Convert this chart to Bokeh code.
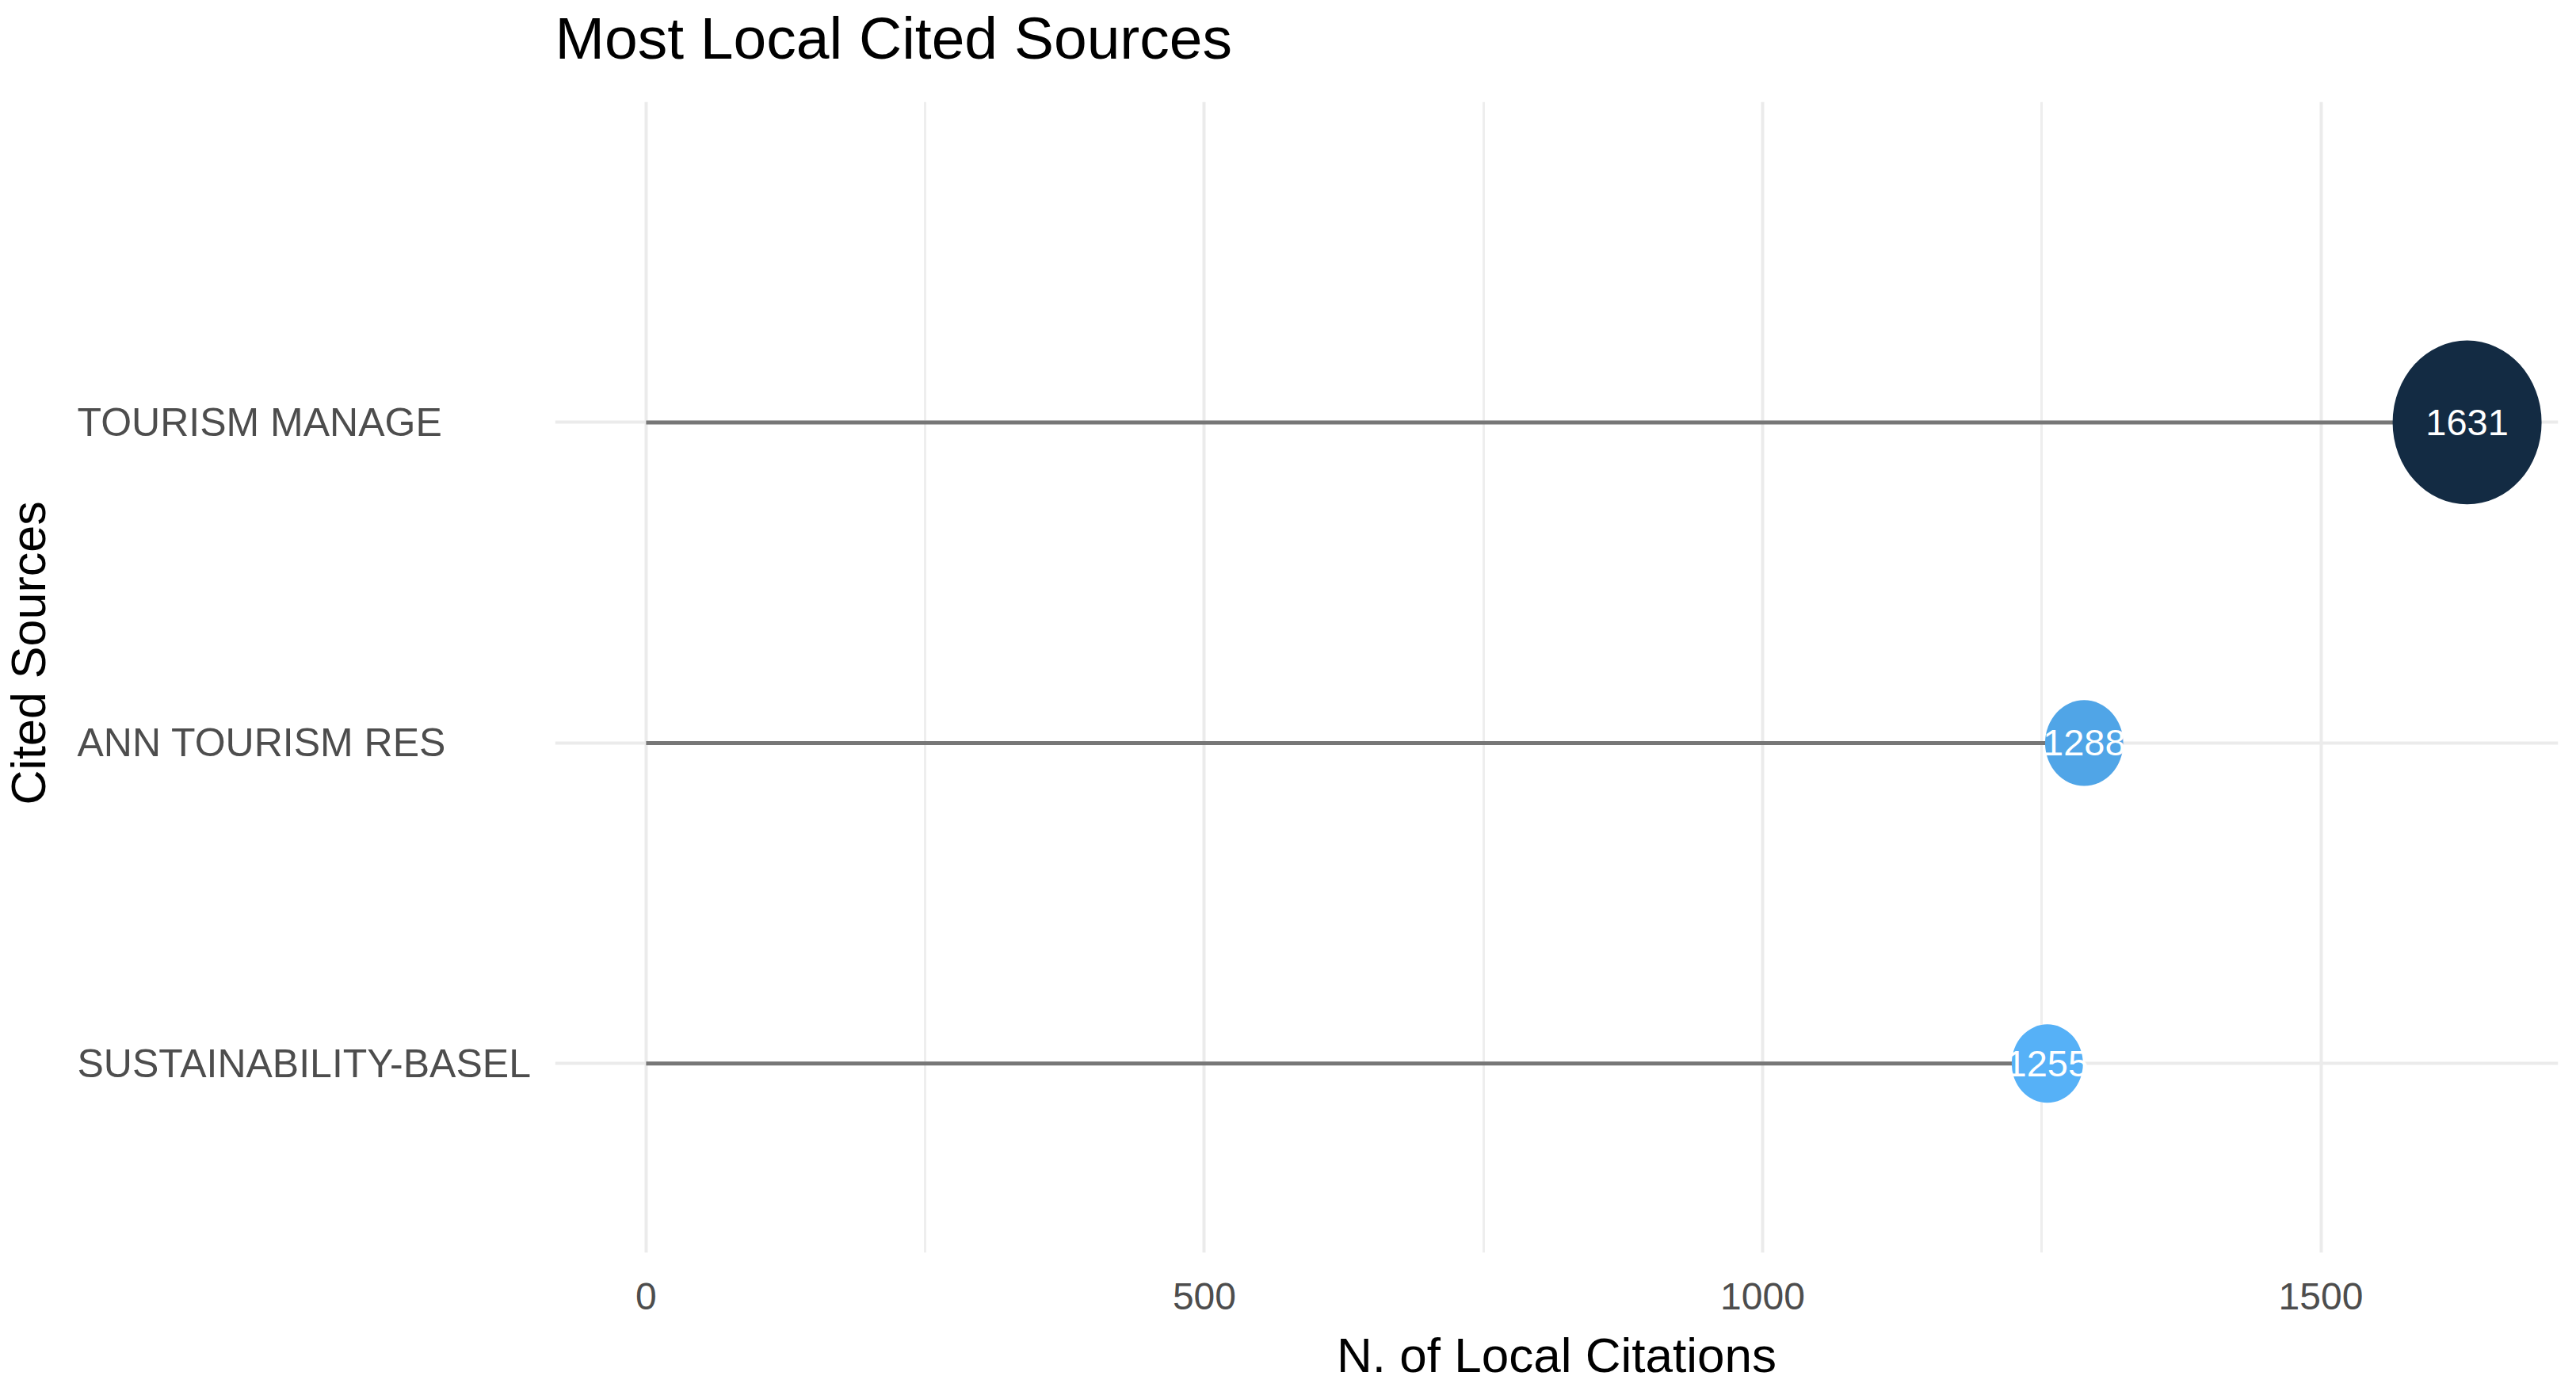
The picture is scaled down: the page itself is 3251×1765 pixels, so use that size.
import math
from bokeh.plotting import figure
from bokeh.layouts import column, row
from bokeh.models import (Range1d, FixedTicker, ColumnDataSource, LinearColorMapper,
                          Label, LabelSet)
from bokeh.core.properties import value
from bokeh.embed import file_html
from bokeh.resources import INLINE

# ---- data ----
sources = ["TOURISM MANAGE", "ANN TOURISM RES", "SUSTAINABILITY-BASEL"]
citations = [1631, 1288, 1255]
x_ticks = [0, 500, 1000, 1500]
x_minor_ticks = [250, 750, 1250]
title_text = "Most Local Cited Sources"
x_title = "N. of Local Citations"
y_title = "Cited Sources"

FONT = "Liberation Sans"

n = len(sources)
ypos = list(range(n, 0, -1))
lo, hi = min(citations), max(citations)
x_start = -0.05 * hi
x_end = hi * 1.05
y_range = Range1d(0.41, n + 1.0)

# point size scale (screen px), like ggplot's size scale
widths = [90 + (c - lo) * 98 / (hi - lo) for c in citations]
heights = [w * 1.1 for w in widths]


def interp(c1, c2, t):
    a = [int(c1[i:i + 2], 16) for i in (1, 3, 5)]
    b = [int(c2[i:i + 2], 16) for i in (1, 3, 5)]
    return "#" + "".join("%02x" % round(a[k] + (b[k] - a[k]) * t) for k in range(3))


palette = [interp("#56B1F7", "#132B43", i / 255) for i in range(256)]
mapper = LinearColorMapper(palette=palette, low=lo, high=hi)

src = ColumnDataSource(dict(
    y=ypos, x=citations, zero=[0] * n, w=widths, h=heights,
    lab=[str(c) for c in citations], name=sources,
))

# ---- layout geometry (px) ----
W, H = 3245, 1762
TOP = 128          # panel top
LEFT = 700         # panel left
PANEL_RIGHT = 3228
PANEL_BOTTOM = 1580


def blank(fig):
    fig.outline_line_color = None
    fig.background_fill_color = "white"
    fig.border_fill_color = "white"
    return fig


# ---- title strip ----
top = blank(figure(width=W, height=TOP, output_backend="svg", toolbar_location=None,
                   x_range=Range1d(0, W), y_range=Range1d(0, TOP),
                   x_axis_type=None, y_axis_type=None,
                   min_border_left=0, min_border_right=0, min_border_top=0, min_border_bottom=0))
top.add_layout(Label(x=LEFT, y=TOP - 47, text=title_text, text_align="left",
                     text_baseline="alphabetic", text_font=FONT, text_font_size="75px",
                     text_color="black"))

# ---- left strip: category labels + y title ----
left = blank(figure(width=LEFT, height=H - TOP, output_backend="svg", toolbar_location=None,
                    x_range=Range1d(0, LEFT), y_range=y_range,
                    x_axis_type=None, y_axis_type=None,
                    min_border_left=0, min_border_right=0, min_border_top=0,
                    min_border_bottom=H - PANEL_BOTTOM))
left.add_layout(LabelSet(x=97, y="y", text="name", source=src,
                         text_align="left", text_baseline="middle", text_font=value(FONT),
                         text_font_size="50px", text_color="#4D4D4D"))
left.add_layout(Label(x=35, y=y_range.start, y_offset=PANEL_BOTTOM - 1015, angle=math.pi / 2,
                      text=y_title, text_align="left", text_baseline="alphabetic",
                      text_font=FONT, text_font_size="61px", text_color="black"))

# ---- main panel ----
p = blank(figure(width=W - LEFT, height=H - TOP, output_backend="svg", toolbar_location=None,
                 x_range=Range1d(x_start, x_end), y_range=y_range,
                 min_border_left=0, min_border_right=W - PANEL_RIGHT, min_border_top=0,
                 min_border_bottom=H - PANEL_BOTTOM))

p.xaxis.ticker = FixedTicker(ticks=x_ticks, minor_ticks=x_minor_ticks)
ax = p.xaxis[0]
ax.axis_line_color = None
ax.major_tick_line_color = None
ax.minor_tick_line_color = None
ax.major_tick_out = 0
ax.major_tick_in = 0
ax.minor_tick_out = 0
ax.minor_tick_in = 0
ax.major_label_text_font = FONT
ax.major_label_text_font_size = "48px"
ax.major_label_text_color = "#4D4D4D"
ax.major_label_standoff = 38
ax.axis_label = x_title
ax.axis_label_text_font = FONT
ax.axis_label_text_font_style = "normal"
ax.axis_label_text_color = "black"
ax.axis_label_text_font_size = "62px"
ax.axis_label_standoff = 20

p.yaxis.visible = False
p.ygrid.ticker = FixedTicker(ticks=ypos)

p.xgrid.grid_line_color = "#EBEBEB"
p.xgrid.grid_line_width = 4
p.xgrid.minor_grid_line_color = "#EEEEEE"
p.xgrid.minor_grid_line_width = 3
p.ygrid.grid_line_color = "#EBEBEB"
p.ygrid.grid_line_width = 4

p.segment(x0="zero", y0="y", x1="x", y1="y", line_color="#777777", line_width=5, source=src)
p.ellipse(x="x", y="y", width="w", height="h", width_units="screen", height_units="screen",
          fill_color={"field": "x", "transform": mapper}, line_color=None, source=src)
p.text(x="x", y="y", text="lab", text_align="center", text_baseline="middle",
       text_color="white", text_font=value(FONT), text_font_size="47px", source=src)

layout = column(top, row(left, p, spacing=0), spacing=0)
open("out.html", "w").write(file_html(layout, INLINE))
